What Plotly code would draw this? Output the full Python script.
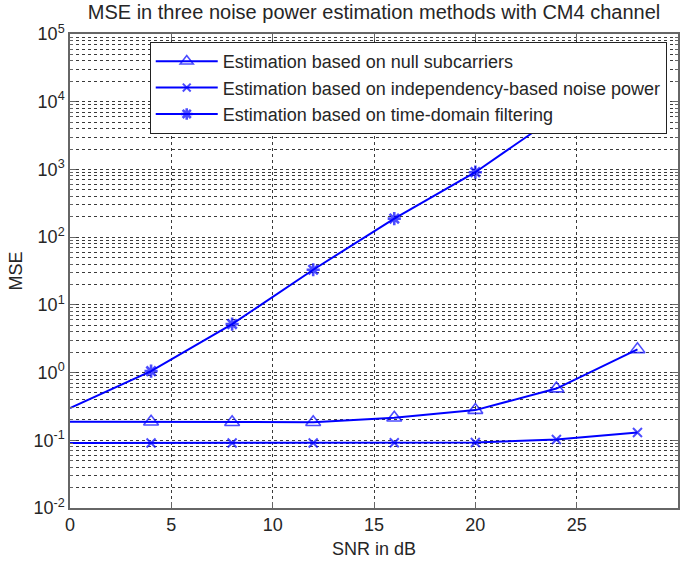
import plotly.graph_objects as go

# ---- data ----
snr_db = [0, 4, 8, 12, 16, 20, 24, 28]
mse_null_subcarriers = [0.188, 0.188, 0.185, 0.185, 0.215, 0.279, 0.58, 2.2]
mse_independency = [0.091, 0.091, 0.091, 0.091, 0.092, 0.093, 0.103, 0.13]
mse_time_domain = [0.30, 1.05, 5.2, 33, 188, 910, 6100, 35000]

names = [
    "Estimation based on null subcarriers",
    "Estimation based on independency-based noise power",
    "Estimation based on time-domain filtering",
]
y_decades = [-2, -1, 0, 1, 2, 3, 4, 5]
x_ticks = [0, 5, 10, 15, 20, 25, 30]

FONT = "Liberation Sans, Arial, sans-serif"
BLUE = "#0000FF"
TXT = "#262626"

def marker_sizes(n, s):
    # no marker at the first point (SNR = 0), as in the reference
    return [0] + [s] * (n - 1)

fig = go.Figure()
fig.add_trace(go.Scatter(
    x=snr_db, y=mse_null_subcarriers, name=names[0], mode="lines+markers",
    line=dict(color=BLUE, width=2),
    marker=dict(symbol="triangle-up-open", size=marker_sizes(len(snr_db), 13),
                color=BLUE, line=dict(color=BLUE, width=1.6)),
))
fig.add_trace(go.Scatter(
    x=snr_db, y=mse_independency, name=names[1], mode="lines+markers",
    line=dict(color=BLUE, width=2),
    marker=dict(symbol="x-thin-open", size=marker_sizes(len(snr_db), 9),
                color=BLUE, line=dict(color=BLUE, width=2)),
))
fig.add_trace(go.Scatter(
    x=snr_db, y=mse_time_domain, name=names[2], mode="lines+markers",
    line=dict(color=BLUE, width=2),
    marker=dict(symbol="asterisk-open", size=marker_sizes(len(snr_db), 11),
                color=BLUE, line=dict(color=BLUE, width=2.6)),
))

minor_vals = [m * 10 ** d for d in y_decades[:-1] for m in range(2, 10)]

grid_col = "#3a3a3a"
fig.update_layout(
    width=688, height=564,
    margin=dict(l=70, r=8, t=34, b=52),
    paper_bgcolor="white", plot_bgcolor="white",
    font=dict(family=FONT, size=18, color=TXT),
    title=dict(text="MSE in three noise power estimation methods with CM4 channel",
               x=0.5, xref="paper", xanchor="center",
               y=1 - 12 / 564, yref="container", yanchor="middle",
               font=dict(size=20, color=TXT, family=FONT)),
    showlegend=True,
    legend=dict(x=(150 - 70) / 610, y=(512 - 42) / 478, xanchor="left", yanchor="top",
                bgcolor="white", bordercolor="#222", borderwidth=1,
                itemwidth=62,
                font=dict(size=18, color=TXT, family=FONT), traceorder="normal"),
    xaxis=dict(
        range=[0, 30], tickvals=x_ticks, ticktext=[str(v) for v in x_ticks],
        showline=True, linecolor="#666", linewidth=1.5, mirror="allticks",
        ticks="inside", ticklen=6, tickcolor="#666",
        showgrid=True, gridcolor=grid_col, griddash="dot", gridwidth=1,
        zeroline=False,
        title=dict(text="SNR in dB", font=dict(size=18, color=TXT), standoff=8),
        tickfont=dict(size=18, color=TXT),
    ),
    yaxis=dict(
        type="log", range=[-2, 5],
        tickvals=[10 ** d for d in y_decades],
        ticktext=["10<sup>%d</sup>" % d for d in y_decades],
        showline=True, linecolor="#666", linewidth=1.5, mirror="allticks",
        ticks="inside", ticklen=6, tickcolor="#666",
        showgrid=True, gridcolor=grid_col, griddash="dot", gridwidth=1,
        zeroline=False,
        minor=dict(tickmode="array", tickvals=minor_vals, showgrid=True,
                   gridcolor=grid_col, griddash="dot", gridwidth=1,
                   ticks="inside", ticklen=3, tickcolor="#666"),
        title=dict(text="MSE", font=dict(size=18, color=TXT), standoff=6),
        tickfont=dict(size=18, color=TXT),
    ),
)

fig.write_html("out.html")
